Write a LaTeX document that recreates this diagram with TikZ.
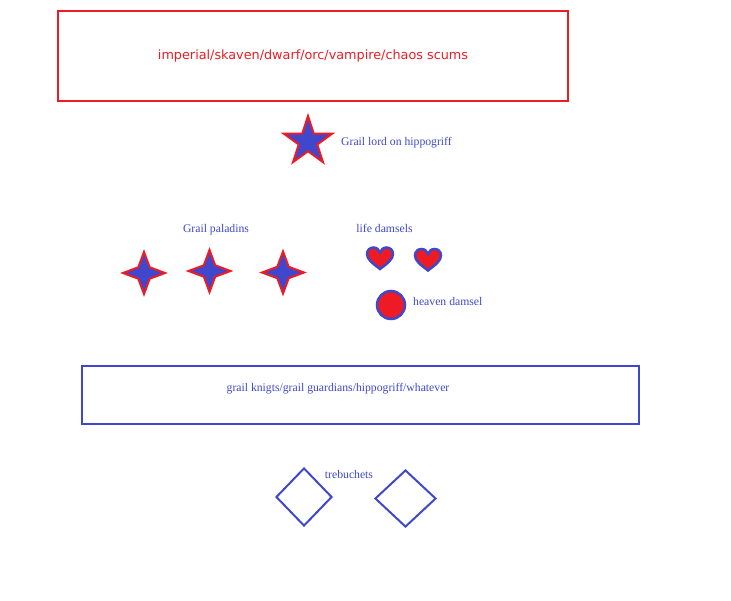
\documentclass[tikz,border=0pt]{standalone}
\usepackage{fontspec}
\setmainfont{Liberation Serif}
\newfontfamily\scumfont{DejaVu Sans}
\usepackage{tikz}
\usetikzlibrary{shapes.geometric}
\definecolor{scumred}{RGB}{237,28,36}
\definecolor{grailblue}{RGB}{63,72,204}
\tikzset{
scum box/.style = { rectangle, draw = scumred, line width = 2pt, minimum width = 510pt, minimum height = 90pt, text = scumred, font = \scumfont\fontsize{12.8}{14}\selectfont },
knight box/.style = { rectangle, draw = grailblue, line width = 2pt, minimum width = 557pt, minimum height = 58pt },
lord/.style = { star, star points = 5, star point ratio = 2.618, draw = scumred, fill = grailblue, line width = 2pt, minimum size = 51pt, inner sep = 0pt },
paladin/.style = { star, star points = 4, star point ratio = 2.6, draw = scumred, fill = grailblue, line width = 2pt, minimum size = 42pt, inner sep = 0pt },
damsel/.style = { circle, draw = grailblue, fill = scumred, line width = 2.5pt, minimum size = 28pt, inner sep = 0pt },
trebuchet/.style = { diamond, draw = grailblue, line width = 2pt, inner sep = 0pt },
grail text/.style = { text = grailblue, inner sep = 0pt, font = \fontsize{11.7}{13}\selectfont },
}
\tikzset{
pics/heart/.style = {
        code = {
        \path[draw = grailblue, fill = scumred, line width = 2.5pt] (0, 11) .. controls (-8, 5) and (-13, 1) .. (-13, -4) .. controls (-13, -8) and (-10, -10.5) .. (-6.5, -10.5) .. controls (-3, -10.5) and (-1, -8) .. (0, -5.5) .. controls (1, -8) and (3, -10.5) .. (6.5, -10.5) .. controls (10, -10.5) and (13, -8) .. (13, -4) .. controls (13, 1) and (8, 5) .. cycle;
        }
    }
}
\begin{document}
\begin{tikzpicture}[x = 1pt, y = -1pt]
      \useasboundingbox (0, 0) rectangle (731, 600);
      % enemies
      \node[scum box] (scums) at (313, 56) {imperial/skaven/dwarf/orc/vampire/chaos scums};
      % lord
      \node[lord] (lord) at (308, 141.5) {};
      \node[grail text, anchor = west] (lord text) at (341, 143) {Grail lord on hippogriff};
      % paladins
      \node[grail text] (paladin text) at (216, 230) {Grail paladins};
      \node[paladin] (paladin 1) at (144, 273) {};
      \node[paladin] (paladin 2) at (209.5, 271) {};
      \node[paladin] (paladin 3) at (283, 272.5) {};
      % damsels
      \node[grail text] (life text) at (384.5, 228) {life damsels};
      \pic (life 1) at (380, 258) {heart};
      \pic (life 2) at (428, 259.5) {heart};
      \node[damsel] (heaven) at (391, 305) {};
      \node[grail text, anchor = west] (heaven text) at (413, 301) {heaven damsel};
      % knights
      \node[knight box] (knights) at (360.5, 395) {};
      \node[grail text] (knight text) at (338, 389) {grail knigts/grail guardians/hippogriff/whatever};
      % trebuchets
      \node[trebuchet, minimum width = 56pt, minimum height = 58pt] (trebuchet 1) at (304, 497) {};
      \node[trebuchet, minimum width = 61pt, minimum height = 57pt] (trebuchet 2) at (405.5, 498.5) {};
      \node[grail text] (trebuchet text) at (349, 474) {trebuchets};
\end{tikzpicture}
\end{document}
